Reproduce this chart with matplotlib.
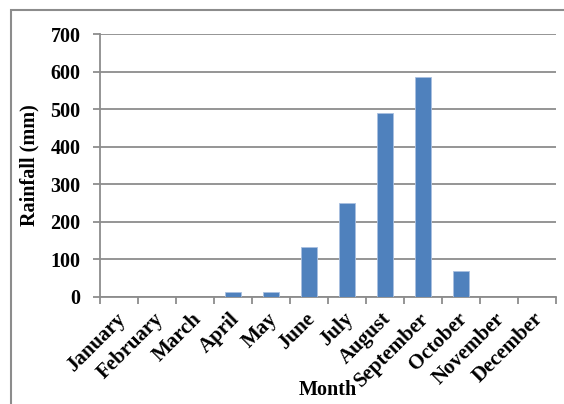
import matplotlib
matplotlib.use("Agg")
import matplotlib.pyplot as plt
from matplotlib.patches import Rectangle
from matplotlib.transforms import ScaledTranslation
import numpy as np

months = ["January", "February", "March", "April", "May", "June", "July",
          "August", "September", "October", "November", "December"]
rainfall = [0, 0, 0, 12, 12, 132, 249, 489, 585, 70, 0, 0]
y_ticks = [0, 100, 200, 300, 400, 500, 600, 700]

W, H = 564, 404
fig = plt.figure(figsize=(W / 100, H / 100), dpi=100)
plt.rcParams['font.family'] = ['Liberation Serif', 'DejaVu Serif']

# outer chart frame
fig.patches.append(Rectangle((11 / W, -0.05), 1.2, (H - 10) / H + 0.05,
                             transform=fig.transFigure, fill=False,
                             edgecolor="#8c8c8c", linewidth=1.5))

left, right, top, bottom = 100, 556, 34, 297
ax = fig.add_axes([left / W, 1 - bottom / H, (right - left) / W, (bottom - top) / H])

x = np.arange(len(months))
ax.bar(x, rainfall, width=0.4, color="#4f81bd", edgecolor="#a9c0e0",
       linewidth=0.6, zorder=3)

ax.set_xlim(-0.5, len(months) - 0.5)
ax.set_ylim(0, 700)
ax.set_yticks(y_ticks)
ax.set_yticklabels([str(v) for v in y_ticks], fontsize=14.5, fontweight="bold")
ax.grid(axis="y", color="#8c8c8c", linewidth=1.3, zorder=0)

# tick marks at the category boundaries
ax.set_xticks(np.arange(len(months) + 1) - 0.5)
ax.set_xticklabels([])
ax.tick_params(axis="x", which="major", length=5, width=1.3, color="#8c8c8c")
ax.tick_params(axis="y", length=5, width=1.3, color="#8c8c8c", pad=9)

# slanted month names under each category centre
offset = ScaledTranslation(-4 / 100, -12 / 100, fig.dpi_scale_trans)
for xi, name in zip(x, months):
    ax.text(xi, 0, name, transform=ax.transData + offset, rotation=45,
            ha="right", va="top", rotation_mode="anchor",
            fontsize=15, fontweight="bold", clip_on=False)

for s in ["top", "right"]:
    ax.spines[s].set_visible(False)
for s in ["left", "bottom"]:
    ax.spines[s].set_color("#8c8c8c")
    ax.spines[s].set_linewidth(1.3)

ax.set_ylabel("Rainfall (mm)", fontsize=14.5, fontweight="bold")
ax.yaxis.set_label_coords((39 - left) / (right - left), 0.5)
ax.set_xlabel("Month", fontsize=14.5, fontweight="bold", va="center")
ax.xaxis.set_label_coords((328 - left) / (right - left), -(390 - bottom) / (bottom - top))

fig.savefig("out.png", dpi=100)
